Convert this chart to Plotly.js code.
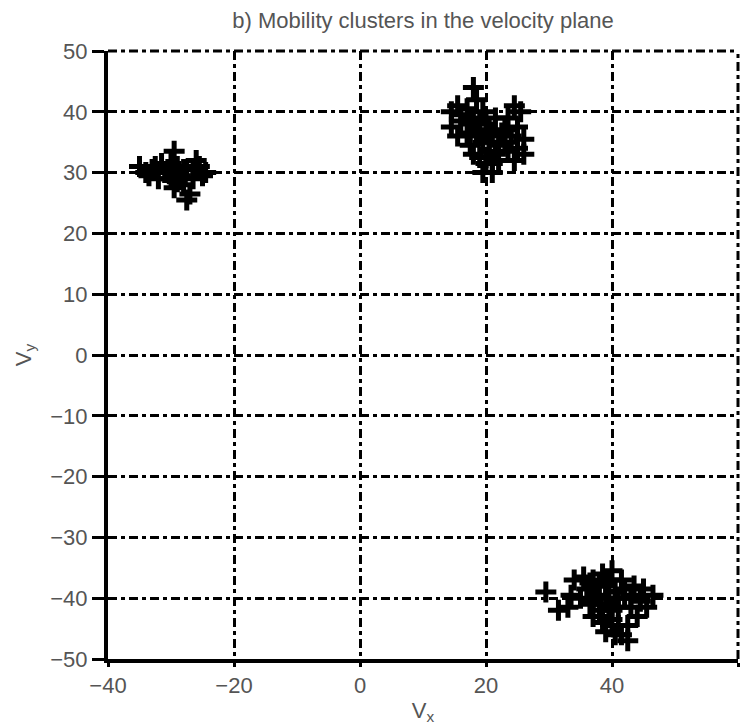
<!DOCTYPE html>
<html>
<head>
<meta charset="utf-8">
<script src="https://cdn.plot.ly/plotly-3.0.1.min.js"></script>
<style>html,body{margin:0;padding:0;background:#fff;}#chart{width:749px;height:728px;}</style>
</head>
<body>
<div id="chart"></div>
<script>
// Cluster 1 (around Vx=-30, Vy=30)
const c1x = [-35, -33, -31.5, -31, -30, -29.5, -29, -28.5, -28, -27.5, -27.5, -26.5, -26, -25.5, -25, -24.5, -32, -29.5, -27, -33.5, -34, -32.5, -30.5, -28, -26.5, -29, -30];
const c1y = [31, 30.5, 31.5, 30, 29, 33.5, 31, 29.5, 28, 30.5, 25.5, 29, 32, 31, 29.5, 30, 29, 27.5, 26.5, 29.5, 30, 31, 30.5, 30.5, 30.5, 28.5, 31.5];

// Cluster 2 (around Vx=20, Vy=36)
const c2x = [18, 18.5, 14.5, 15.5, 16, 14.5, 17, 18, 19.5, 15.5, 17, 18.5, 20, 21, 19.5, 17.5, 21.5, 20.5, 22, 19, 21, 19.5, 22, 18, 21, 24.5, 25.5, 23.5, 25, 24, 26, 25, 23.5, 24.5, 26, 23, 20, 16, 17.5, 19, 20.5, 19, 20.5, 21.5, 20, 22.5, 23];
const c2y = [44, 42, 40, 41, 38.5, 37.5, 40.5, 39, 40, 36, 36.5, 37, 38, 36, 35, 34.5, 39, 33.5, 34.5, 32.5, 31.5, 30, 32, 33, 30, 41, 40, 39, 37.5, 36, 35.5, 34, 33.5, 32, 33, 37, 31.5, 39.5, 38, 38.5, 37, 36, 35, 33, 32.5, 36.5, 35];

// Cluster 3 (around Vx=40, Vy=-40)
const c3x = [29.5, 31.5, 33.5, 33, 34, 35.5, 37, 38.5, 40, 41.5, 36, 37.5, 39, 40.5, 42, 35, 36.5, 38, 39.5, 41, 37, 38.5, 40, 39, 40.5, 42, 43.5, 45, 46.5, 44.5, 43, 44, 42.5, 41.5, 42.5, 45.5, 36.5, 38, 39.5, 37, 39, 41, 38, 40, 38.5, 41, 43];
const c3y = [-39, -42, -39.5, -41.5, -37, -36.5, -37, -36, -35.5, -37, -38.5, -39.5, -38, -39, -38.5, -40, -41, -42, -41, -41.5, -43, -44, -43.5, -45.5, -46, -40, -38, -38.5, -39.5, -40.5, -41.5, -43, -44.5, -46, -47, -41.5, -37.5, -38, -37, -40.5, -40, -40, -41, -42, -43, -44.5, -39.5];

const xTicks = [-40, -20, 0, 20, 40, 60];
const yTicks = [-50, -40, -30, -20, -10, 0, 10, 20, 30, 40, 50];

const allX = c1x.concat(c2x, c3x);
const allY = c1y.concat(c2y, c3y);

const trace = {
  x: allX, y: allY, type: 'scatter', mode: 'markers',
  marker: {symbol: 'cross-thin-open', size: 15, color: '#000', line: {color: '#000', width: 5}},
  hoverinfo: 'skip'
};

const tickFont = {family: 'Liberation Sans Narrow, Liberation Sans, Arial, sans-serif', size: 22, color: '#555'};
const gridDash = '9px,4px,4px,4px';

const layout = {
  width: 749, height: 728,
  margin: {l: 108, r: 11, t: 51, b: 69},
  paper_bgcolor: '#fff', plot_bgcolor: '#fff',
  showlegend: false,
  title: {
    text: 'b) Mobility clusters in the velocity plane',
    font: {family: 'Liberation Sans Narrow, Liberation Sans, Arial, sans-serif', size: 22, color: '#555'},
    x: 0.5, xref: 'paper', xanchor: 'center',
    y: 1 - 20/728, yref: 'container', yanchor: 'middle'
  },
  xaxis: {
    range: [-40, 60], tickvals: xTicks, ticktext: xTicks.map(v => v < 0 ? '\u2212' + Math.abs(v) : String(v)),
    showline: true, linecolor: '#000', linewidth: 4, mirror: false,
    ticks: 'outside', ticklen: 4, tickwidth: 3, tickcolor: '#000',
    showgrid: true, gridcolor: '#000', gridwidth: 3, griddash: gridDash,
    zeroline: false, tickfont: tickFont,
    title: {text: 'V<sub>x</sub>', font: {family: 'Liberation Sans, Arial, sans-serif', size: 22, color: '#555'}, standoff: 6}
  },
  yaxis: {
    range: [-50, 50], tickvals: yTicks, ticktext: yTicks.map(v => v < 0 ? '\u2212' + Math.abs(v) : String(v)),
    showline: true, linecolor: '#000', linewidth: 4, mirror: false,
    ticks: 'outside', ticklen: 12, tickwidth: 3, tickcolor: '#000',
    showgrid: true, gridcolor: '#000', gridwidth: 3, griddash: gridDash,
    zeroline: false, tickfont: tickFont,
    title: {text: 'V<sub>y</sub>', font: {family: 'Liberation Sans, Arial, sans-serif', size: 22, color: '#555'}, standoff: 14}
  },
  shapes: [
    {type: 'line', xref: 'paper', yref: 'paper', x0: 0, x1: 1, y0: 1, y1: 1, line: {color: '#000', width: 3, dash: gridDash}},
    {type: 'line', xref: 'paper', yref: 'paper', x0: 1, x1: 1, y0: 0, y1: 1, line: {color: '#000', width: 3, dash: gridDash}}
  ]
};

Plotly.newPlot('chart', [trace], layout, {staticPlot: true, displayModeBar: false});
</script>
</body>
</html>
